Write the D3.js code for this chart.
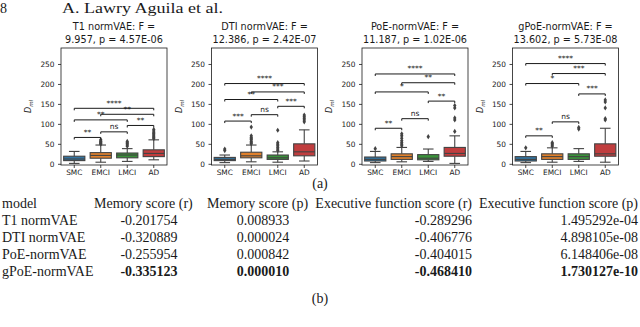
<!DOCTYPE html>
<html><head><meta charset="utf-8">
<script src="https://cdn.jsdelivr.net/npm/d3@7"></script>
<style>
body{margin:0;background:#fff}
svg{display:block}
.sans{font-family:"DejaVu Sans",sans-serif}
.serif{font-family:"Liberation Serif","Times New Roman",serif}
</style>
</head><body><svg id="c" width="640" height="327"></svg>
<script>
// ---------- data ----------
const groups = ["SMC", "EMCI", "LMCI", "AD"];
const modelTitles = ["T1 normVAE", "DTI normVAE", "PoE-normVAE", "gPoE-normVAE"];
const fValues = ["9.957", "12.386", "11.187", "13.602"];
const pValues = ["4.57E-06", "2.42E-07", "1.02E-06", "5.73E-08"];
const yTicks = [0, 50, 100, 150, 200, 250];
const groupColors = ["#3274a1", "#e1812c", "#3a923a", "#c03d3e"];

// box statistics: one row per model, one column per group
const whiskerLow  = [[1, 4, 6, 10], [3, 5, 4, 7], [3, 5, 6, 1], [3, 4, 6, 4]];
const q1          = [[8, 14, 15, 18], [8, 15, 11, 20], [7, 11, 10, 19], [7, 11, 11, 19]];
const median      = [[12, 21, 22, 26], [11, 20, 15, 30], [11, 18, 14, 26], [11, 18, 18, 25]];
const q3          = [[19, 28, 27, 35], [16, 29, 22, 50], [17, 25, 23, 41], [18, 25, 25, 50]];
const whiskerHigh = [[31, 47, 38, 60], [22, 47, 30, 85], [31, 41, 37, 70], [31, 40, 38, 89]];
const outliers = [
  [[], [49, 51, 53, 55, 57, 60], [44, 47, 50, 53, 56], [63, 66, 69, 72, 75, 78, 82, 86]],
  [[33, 37], [50, 53, 56, 60, 63, 66, 70, 92], [33, 37, 41, 45, 49, 53, 84], [105, 110, 114, 118, 122]],
  [[38], [45, 49, 53, 58, 64, 70, 75], [68], [81, 110, 115, 140, 146]],
  [[40], [44, 47, 50, 53], [87, 91], [110, 113, 140, 155, 160]]
];
const bracketPairs = [[0, 1], [1, 2], [2, 3], [0, 2], [1, 3], [0, 3]];
const bracketHeights = [
  [66, 80, 96, 110, 124, 139],
  [107, 123, 144, 161, 180, 201],
  [89, 113, 157, 180, 203, 225],
  [70, 105, 175, 201, 226, 251]
];
const bracketLabels = [
  ["**", "ns", "**", "**", "**", "****"],
  ["***", "ns", "***", "**", "***", "****"],
  ["**", "ns", "**", "*", "**", "****"],
  ["**", "ns", "***", "*", "***", "****"]
];

const tableColumns = ["model", "Memory score (r)", "Memory score (p)", "Executive function score (r)", "Executive function score (p)"];
const tableModels = ["T1 normVAE", "DTI normVAE", "PoE-normVAE", "gPoE-normVAE"];
const memoryR = ["-0.201754", "-0.320889", "-0.255954", "-0.335123"];
const memoryP = ["0.008933", "0.000024", "0.000842", "0.000010"];
const execR = ["-0.289296", "-0.406776", "-0.404015", "-0.468410"];
const execP = ["1.495292e-04", "4.898105e-08", "6.148406e-08", "1.730127e-10"];
const boldRow = 3;

// ---------- layout ----------
const svg = d3.select("#c");
const panelLeft = [61, 211.5, 362, 512.5];
const panelW = 106, plotTop = 48, plotBottom = 165;
const ink = "#1a1a1a", boxLine = "#434343";

// page header
svg.append("text").attr("class", "serif").attr("x", 0).attr("y", 12.8)
  .attr("font-size", 14).attr("fill", ink).text("8");
svg.append("text").attr("class", "serif").attr("x", 62).attr("y", 12.8)
  .attr("font-size", 14).attr("fill", ink)
  .attr("textLength", 161).attr("lengthAdjust", "spacingAndGlyphs")
  .text("A. Lawry Aguila et al.");

const yScale = d3.scaleLinear().domain([-3, 290]).range([plotBottom, plotTop]);

modelTitles.forEach((m, i) => {
  const g = svg.append("g");
  const x = d3.scaleBand().domain(groups).range([panelLeft[i], panelLeft[i] + panelW]);
  const bw = x.bandwidth() * 0.8;
  const cx = panelLeft[i] + panelW / 2;

  g.append("text").attr("class", "sans").attr("x", cx).attr("y", 30)
    .attr("text-anchor", "middle").attr("font-size", 9.7).attr("fill", ink)
    .text(`${m}: F =`);
  g.append("text").attr("class", "sans").attr("x", cx).attr("y", 43.3)
    .attr("text-anchor", "middle").attr("font-size", 9.7).attr("fill", ink)
    .text(`${fValues[i]}, p = ${pValues[i]}`);

  // axes
  const ya = g.append("g").attr("transform", `translate(${panelLeft[i]},0)`)
    .call(d3.axisLeft(yScale).tickValues(yTicks).tickSize(3).tickPadding(3.5));
  const xa = g.append("g").attr("transform", `translate(0,${plotBottom})`)
    .call(d3.axisBottom(x).tickSize(3).tickPadding(2));
  [ya, xa].forEach(a => {
    a.select(".domain").remove();
    a.selectAll("line").attr("stroke", ink).attr("stroke-width", 0.8);
    a.selectAll("text").attr("font-family", "DejaVu Sans").attr("font-size", 7.4).attr("fill", ink);
  });

  // y label
  const yl = g.append("text").attr("class", "sans")
    .attr("transform", `translate(${panelLeft[i] - 30},${(plotTop + plotBottom) / 2}) rotate(-90)`)
    .attr("text-anchor", "middle").attr("font-size", 8).attr("fill", ink);
  yl.append("tspan").attr("font-style", "italic").text("D");
  yl.append("tspan").attr("font-size", 5.5).attr("dy", 2).attr("font-style", "italic").text("ml");

  // boxes
  groups.forEach((gn, j) => {
    const c = x(gn) + x.bandwidth() / 2;
    const bg = g.append("g");
    bg.append("line").attr("x1", c).attr("x2", c).attr("y1", yScale(whiskerLow[i][j])).attr("y2", yScale(q1[i][j]))
      .attr("stroke", boxLine).attr("stroke-width", 1.1);
    bg.append("line").attr("x1", c).attr("x2", c).attr("y1", yScale(q3[i][j])).attr("y2", yScale(whiskerHigh[i][j]))
      .attr("stroke", boxLine).attr("stroke-width", 1.1);
    [whiskerLow[i][j], whiskerHigh[i][j]].forEach(v => {
      bg.append("line").attr("x1", c - bw / 4).attr("x2", c + bw / 4).attr("y1", yScale(v)).attr("y2", yScale(v))
        .attr("stroke", boxLine).attr("stroke-width", 1.1);
    });
    bg.append("rect").attr("x", c - bw / 2).attr("width", bw)
      .attr("y", yScale(q3[i][j])).attr("height", yScale(q1[i][j]) - yScale(q3[i][j]))
      .attr("fill", groupColors[j]).attr("stroke", boxLine).attr("stroke-width", 1.1);
    bg.append("line").attr("x1", c - bw / 2).attr("x2", c + bw / 2)
      .attr("y1", yScale(median[i][j])).attr("y2", yScale(median[i][j]))
      .attr("stroke", boxLine).attr("stroke-width", 1.1);
    bg.selectAll("path.fl").data(outliers[i][j]).join("path").attr("class", "fl")
      .attr("transform", d => `translate(${c},${yScale(d)})`)
      .attr("d", "M0,-2.6L1.7,0L0,2.6L-1.7,0Z")
      .attr("fill", boxLine);
  });

  // significance brackets
  bracketPairs.forEach(([a, b], k) => {
    const x1 = x(groups[a]) + x.bandwidth() / 2;
    const x2 = x(groups[b]) + x.bandwidth() / 2;
    const yy = yScale(bracketHeights[i][k]);
    g.append("path").attr("d", `M${x1},${yy + 2}V${yy}H${x2}V${yy + 2}`)
      .attr("fill", "none").attr("stroke", ink).attr("stroke-width", 1);
    g.append("text").attr("class", "sans").attr("x", (x1 + x2) / 2).attr("y", yy - 2.5)
      .attr("text-anchor", "middle").attr("font-size", 7.5).attr("fill", ink)
      .text(bracketLabels[i][k]);
  });

  // frame
  g.append("rect").attr("x", panelLeft[i]).attr("y", plotTop).attr("width", panelW).attr("height", plotBottom - plotTop)
    .attr("fill", "none").attr("stroke", ink).attr("stroke-width", 0.8);
});

// (a) caption
svg.append("text").attr("class", "serif").attr("x", 320).attr("y", 188)
  .attr("text-anchor", "middle").attr("font-size", 14).attr("fill", ink).text("(a)");

// table: header cells packed on one line, values aligned to their header
const headX = [2, 94, 207, 472, 638];
const headAnchor = ["start", "start", "start", "end", "end"];
const colX = [2, 149, 263, 472, 638];
const colAnchor = ["start", "middle", "middle", "end", "end"];
const rowBase = [208, 225, 242, 259, 276];
const tfs = 14;
tableColumns.forEach((t, c) => {
  svg.append("text").attr("class", "serif").attr("x", headX[c]).attr("y", rowBase[0])
    .attr("text-anchor", headAnchor[c]).attr("font-size", tfs).attr("fill", ink).text(t);
});
tableModels.forEach((mName, r) => {
  const vals = [mName, memoryR[r], memoryP[r], execR[r], execP[r]];
  vals.forEach((v, c) => {
    svg.append("text").attr("class", "serif").attr("x", colX[c]).attr("y", rowBase[r + 1])
      .attr("text-anchor", colAnchor[c]).attr("font-size", tfs).attr("fill", ink)
      .attr("font-weight", (r === boldRow && c > 0) ? "bold" : "normal").text(v);
  });
});

svg.append("text").attr("class", "serif").attr("x", 320).attr("y", 303)
  .attr("text-anchor", "middle").attr("font-size", 14).attr("fill", ink).text("(b)");
</script>
</body></html>
